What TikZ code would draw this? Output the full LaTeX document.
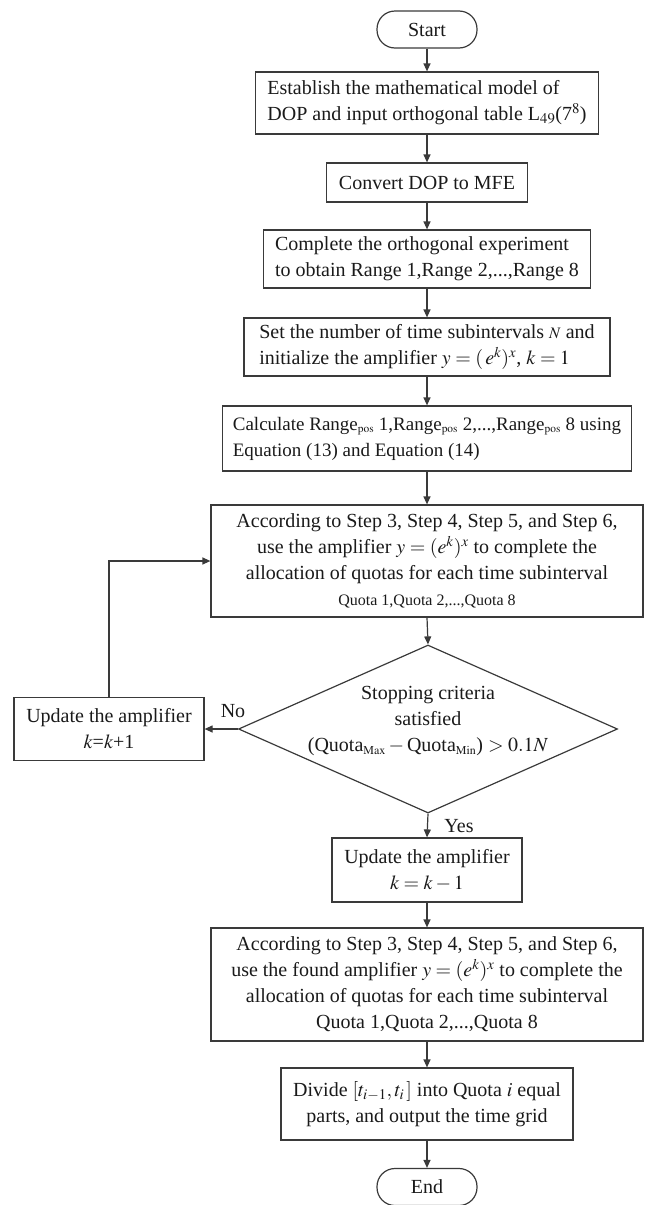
\documentclass[tikz,border=0pt]{standalone}
\usepackage{mathptmx}
\usepackage{fontspec}
\setmainfont{Liberation Serif}
\usetikzlibrary{arrows.meta,shapes.geometric}
\definecolor{linea}{HTML}{3A3A3A}
\definecolor{texto}{HTML}{1A1A1A}

\begin{document}
\begin{tikzpicture}[x=1pt,y=-1pt]
  \tikzset{
    caja/.style={rectangle,draw=linea,line width=1.2pt,inner sep=0pt,text=texto,font=\fontsize{20}{26}\selectfont},
    izq/.style={caja,align=left,inner xsep=10pt},
    term/.style={caja,rounded corners=18pt,minimum width=100pt,minimum height=37pt},
    rombo/.style={diamond,draw=linea,line width=1.2pt,inner sep=0pt,aspect=2.25},
    flecha/.style={draw=linea,line width=1.2pt,-{Triangle[length=8pt,width=7pt]}},
    etiq/.style={text=texto,font=\fontsize{20}{26}\selectfont}
  }
  \useasboundingbox (0,0) rectangle (653,1205);
  \node[term] (s) at (427,29.5) {Start};
  \node[izq,minimum width=343pt,minimum height=62pt] (b1) at (427,103)
    {Establish the mathematical model of\\DOP and input orthogonal table L$_{49}$(7$^{8}$)};
  \node[caja,minimum width=201pt,minimum height=39pt] (b2) at (427,182.5) {Convert DOP to MFE};
  \node[izq,minimum width=327pt,minimum height=58pt] (b3) at (427,259)
    {Complete the orthogonal experiment\\to obtain Range 1,Range 2,...,Range 8};
  \node[izq,minimum width=366pt,minimum height=58pt] (b4) at (427,347)
    {Set the number of time subintervals {\fontsize{16}{20}\selectfont$N$} and\\initialize the amplifier $y=(\,e^{k})^{x}$, $k=1$};
  \node[izq,minimum width=402pt,minimum height=65pt,font=\fontsize{19}{26}\selectfont] (b5) at (427,438.5)
    {Calculate Range$_{\scriptscriptstyle\mathrm{pos}}$ 1,Range$_{\scriptscriptstyle\mathrm{pos}}$ 2,...,Range$_{\scriptscriptstyle\mathrm{pos}}$ 8 using\\Equation (13) and Equation (14)};
  \node[caja,minimum width=432pt,minimum height=112pt,align=center] (b6) at (427,561)
    {According to Step 3, Step 4, Step 5, and Step 6,\\use the amplifier $y=(e^{k})^{x}$ to complete the\\allocation of quotas for each time subinterval\\{\fontsize{16}{20}\selectfont Quota 1,Quota 2,...,Quota 8}};
  \node[rombo,minimum width=379pt,minimum height=168pt] (d) at (428,729) {};
  \node[etiq,align=center] (dt) at (428,721)
    {Stopping criteria\\satisfied\\(Quota$_{\scriptscriptstyle\mathrm{Max}}-{}$Quota$_{\scriptscriptstyle\mathrm{Min}}$) $>0.1N$};
  \node[caja,minimum width=190pt,minimum height=63pt,align=center] (l) at (109,729)
    {Update the amplifier\\$k$=$k$+1};
  \node[caja,minimum width=190pt,minimum height=64pt,align=center] (y) at (427,870)
    {Update the amplifier\\$k=k-1$};
  \node[caja,minimum width=432pt,minimum height=113pt,align=center] (b8) at (427,984.5)
    {According to Step 3, Step 4, Step 5, and Step 6,\\use the found amplifier $y=(e^{k})^{x}$ to complete the\\allocation of quotas for each time subinterval\\Quota 1,Quota 2,...,Quota 8};
  \node[caja,minimum width=292pt,minimum height=72pt,align=center] (b9) at (427,1104)
    {Divide $[t_{i-1},t_{i}\,]$ into Quota $i$ equal\\parts, and output the time grid};
  \node[term] (e) at (427,1187) {End};
  \node[etiq] (no) at (233,711) {No};
  \node[etiq] (si) at (459,826) {Yes};
  \draw[flecha] (s) -- (b1);
  \draw[flecha] (b1) -- (b2);
  \draw[flecha] (b2) -- (b3);
  \draw[flecha] (b3) -- (b4);
  \draw[flecha] (b4) -- (b5);
  \draw[flecha] (b5) -- (b6);
  \draw[flecha] (b6.south) -- (d.north);
  \draw[flecha] (d.south) -- (y.north);
  \draw[flecha] (d.west) -- (l.east);
  \draw[flecha] (l.north) |- (b6.west);
  \draw[flecha] (y) -- (b8);
  \draw[flecha] (b8) -- (b9);
  \draw[flecha] (b9) -- (e);
\end{tikzpicture}
\end{document}
